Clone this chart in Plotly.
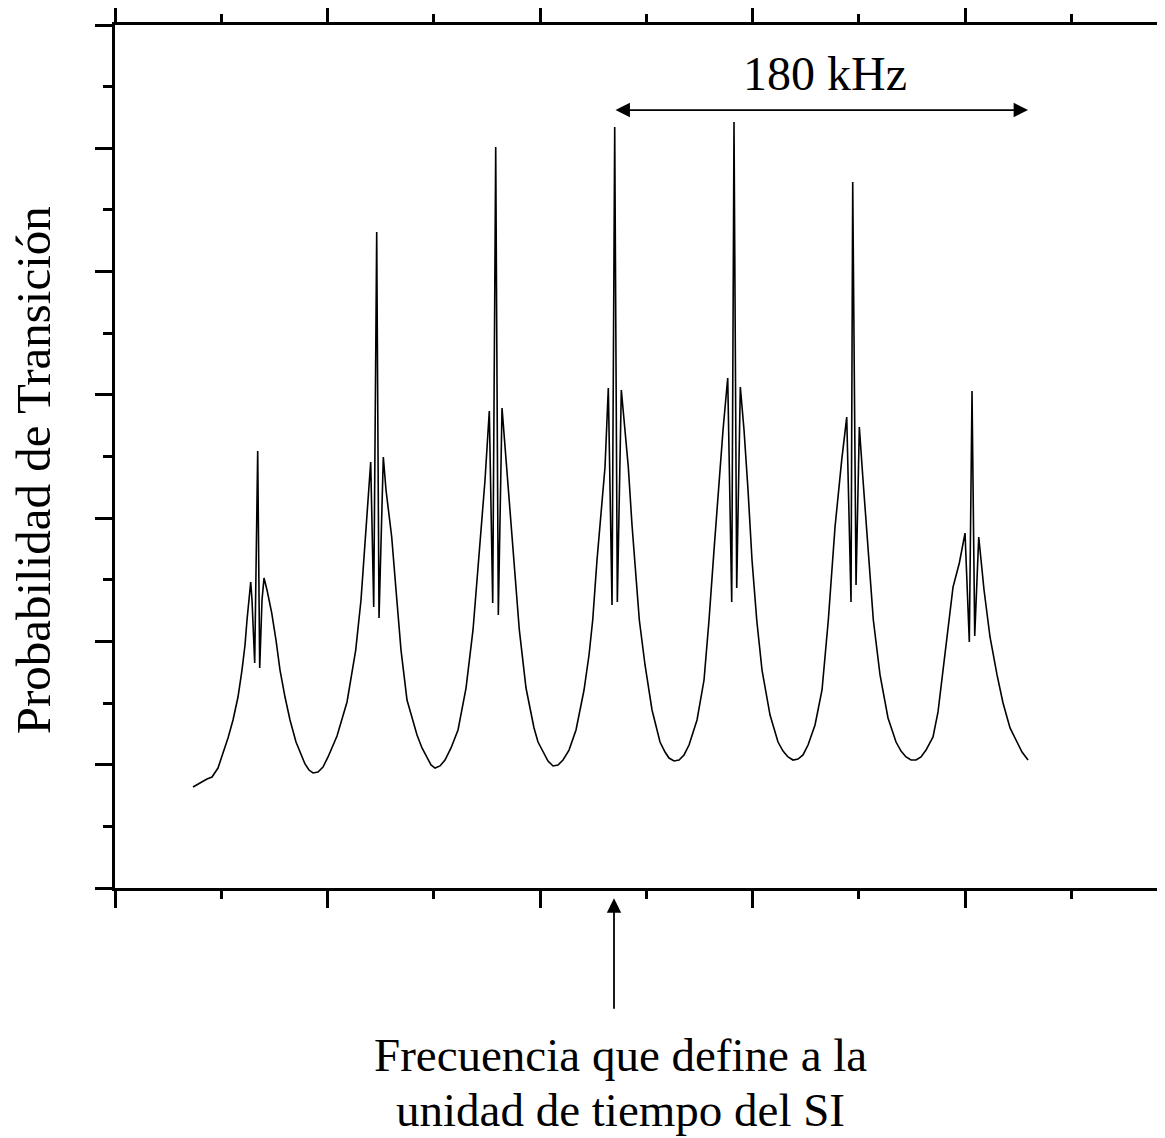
import plotly.graph_objects as go

# Detuning (kHz, arbitrary origin) and transition probability (arb. units)
freq_khz = [
    36.71, 40.0, 43.29, 45.65, 48.47, 50.82, 53.18, 55.53, 57.88, 59.76,
    61.18, 62.12, 63.06, 63.86, 64.47, 65.74, 67.15, 68.09, 69.18, 70.12,
    71.53, 73.74, 75.76, 77.65, 80.0, 82.35, 85.18, 87.06, 89.41, 91.29,
    93.18, 95.53, 97.88, 100.24, 102.59,
    104.47, 109.18, 113.27, 115.76, 117.65, 119.06, 120.33, 121.74,
    123.15, 124.24, 126.26, 127.53, 130.21, 132.24, 134.59, 137.41, 142.12,
    144.47, 146.82, 148.71, 150.59, 152.94, 155.29,
    158.12, 161.41, 165.18, 168.47, 171.76, 174.12, 176.14, 177.74, 179.15,
    180.38, 182.12, 184.0, 185.88, 188.24, 190.26, 193.41, 197.18, 199.06, 201.41,
    203.76, 206.12, 208.47, 210.82,
    213.65, 216.94, 220.71, 223.06, 224.8, 226.82, 228.71, 230.59, 232.14,
    233.88, 235.15, 236.38, 238.26, 240.0, 241.55, 243.29, 245.18, 246.73, 249.41,
    252.71, 256.47, 258.82, 260.71, 263.06, 265.41, 267.76,
    270.12, 273.88, 277.18, 279.53, 281.88, 284.24, 286.12, 288.33, 290.21,
    291.29, 292.56, 294.26, 296.0, 297.88, 299.76, 301.98, 304.47, 308.24, 312.0,
    314.35, 316.71, 319.06, 321.41, 323.76,
    326.12, 329.41, 332.71, 335.67, 338.82, 341.98, 344.33, 346.35, 347.15,
    348.71, 350.26, 352.0, 354.35, 356.85, 360.0, 363.76, 367.53,
    369.88, 372.24, 374.59, 376.94, 379.29, 381.65, 384.94, 387.29,
    389.65, 392.0, 394.35, 397.32, 400.0, 402.02, 403.29, 404.56, 406.45,
    408.94, 411.76, 415.06, 417.88, 421.18, 424.47, 426.82, 429.65,
]
probability = [
    0.819, 0.852, 0.884, 0.900, 0.973, 1.095, 1.217, 1.363, 1.549, 1.768,
    1.971, 2.174, 2.352, 2.482, 2.336, 1.825, 3.544, 1.784, 2.336, 2.514,
    2.417, 2.231, 2.011, 1.768, 1.549, 1.363, 1.184, 1.103, 1.006, 0.957,
    0.933, 0.941, 0.981, 1.063, 1.152,
    1.233, 1.509, 1.930, 2.336, 2.823, 3.188, 3.455, 2.279,
    5.321, 2.190, 3.496, 3.228, 2.847, 2.417, 1.930, 1.525, 1.241,
    1.136, 1.054, 0.998, 0.973, 0.990, 1.038,
    1.136, 1.282, 1.622, 2.093, 2.782, 3.309, 3.869, 2.312, 6.010,
    2.214, 3.893, 3.472, 3.042, 2.498, 2.093, 1.622, 1.298, 1.184, 1.103,
    1.030, 0.990, 0.998, 1.038,
    1.119, 1.282, 1.606, 1.890, 2.174, 2.660, 3.066, 3.415, 4.056,
    2.295, 6.172, 2.320, 4.039, 3.715, 3.415, 2.944, 2.498, 2.174, 1.809,
    1.444, 1.184, 1.103, 1.054, 1.030, 1.038, 1.079,
    1.160, 1.363, 1.687, 2.174, 2.741, 3.309, 3.715, 4.137, 2.320,
    6.213, 2.433, 4.064, 3.715, 3.228, 2.660, 2.174, 1.768, 1.403, 1.184,
    1.111, 1.063, 1.038, 1.046, 1.079,
    1.160, 1.322, 1.606, 2.174, 2.928, 3.472, 3.820, 2.320, 5.726,
    2.458, 3.739, 3.309, 2.741, 2.174, 1.728, 1.379, 1.184,
    1.111, 1.063, 1.038, 1.038, 1.063, 1.119, 1.225, 1.428,
    1.768, 2.109, 2.441, 2.636, 2.879, 1.995, 4.031, 2.044, 2.847,
    2.417, 2.036, 1.728, 1.501, 1.298, 1.176, 1.103, 1.038,
]

span_start_khz = 234.82
span_end_khz = 429.65
span_level = 6.31
span_label = "180 kHz"
si_freq_khz = 234.82
y_title = "Probabilidad de Transición"
caption_lines = ["Frecuencia que define a la", "unidad de tiempo del SI"]

serif = "Liberation Serif, Times New Roman, serif"

fig = go.Figure()
fig.add_trace(go.Scatter(
    x=freq_khz, y=probability, mode="lines",
    line=dict(color="black", width=1.6),
    showlegend=False, hoverinfo="skip",
))

# Double-headed span arrow
fig.add_annotation(
    x=span_end_khz, y=span_level, ax=span_start_khz, ay=span_level,
    xref="x", yref="y", axref="x", ayref="y",
    text="", showarrow=True, arrowside="end+start",
    arrowhead=2, arrowsize=1.6, arrowwidth=1.8, arrowcolor="black",
)
fig.add_annotation(
    x=(span_start_khz + span_end_khz) / 2 + 2, y=6.61, xref="x", yref="y",
    text=span_label, showarrow=False,
    font=dict(family=serif, size=48, color="black"),
)
# Arrow pointing at the SI defining frequency
fig.add_annotation(
    x=si_freq_khz, y=-0.012, xref="x", yref="paper",
    ax=0, ay=112, text="", showarrow=True,
    arrowhead=2, arrowsize=1.6, arrowwidth=1.8, arrowcolor="black",
)
for txt, yp in zip(caption_lines, [-0.1935, -0.2572]):
    fig.add_annotation(
        x=238.1, y=yp, xref="x", yref="paper",
        text=txt, showarrow=False, yanchor="middle", xanchor="center",
        font=dict(family=serif, size=47, color="black"),
    )
fig.add_annotation(
    x=0, y=0.484, xref="paper", yref="paper", xshift=-82,
    xanchor="center", yanchor="middle", borderpad=0,
    text=y_title, textangle=-90, showarrow=False,
    font=dict(family=serif, size=49, color="black"),
)

fig.update_layout(
    width=1157, height=1130,
    margin=dict(l=107, r=0, t=17, b=250, autoexpand=False),
    paper_bgcolor="white", plot_bgcolor="white",
    xaxis=dict(
        range=[0, 494.1], tickmode="linear", tick0=0, dtick=100,
        ticks="outside", ticklen=17, tickwidth=2.5, tickcolor="black",
        showticklabels=False, showline=True, linewidth=2.5, linecolor="black",
        mirror="ticks", showgrid=False, zeroline=False, automargin=False,
        minor=dict(tick0=0, dtick=50, ticks="outside", ticklen=8,
                   tickwidth=2.5, tickcolor="black", showgrid=False),
    ),
    yaxis=dict(
        range=[0, 7], tickmode="linear", tick0=0, dtick=1,
        ticks="outside", ticklen=17, tickwidth=2.5, tickcolor="black",
        showticklabels=False, showline=True, linewidth=2.5, linecolor="black",
        mirror=False, showgrid=False, zeroline=False, automargin=False,
        minor=dict(tick0=0, dtick=0.5, ticks="outside", ticklen=9,
                   tickwidth=2.5, tickcolor="black", showgrid=False),
    ),
)

fig.write_html("out.html")
